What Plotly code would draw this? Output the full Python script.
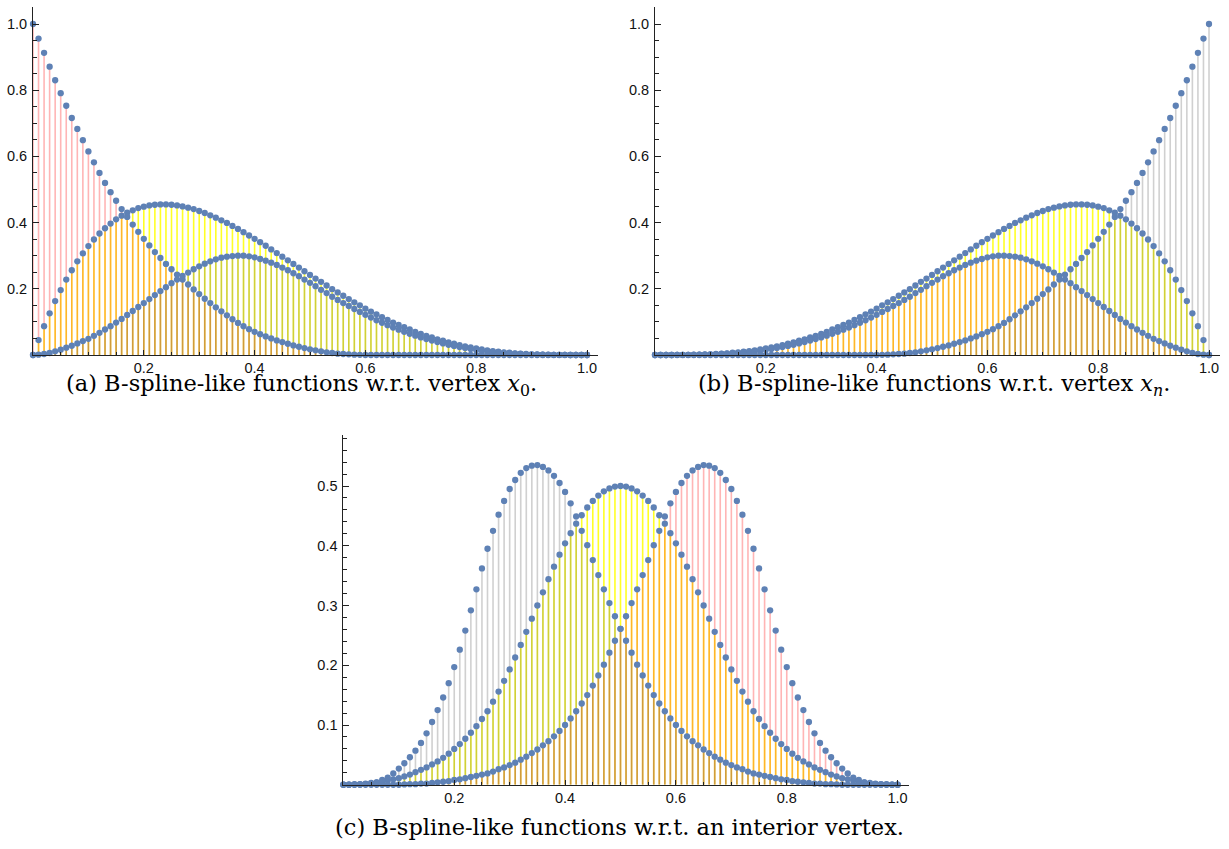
import plotly.graph_objects as go

# sample positions (x grid of the stem plots)
X = [0.00, 0.01, 0.02, 0.03, 0.04, 0.05, 0.06, 0.07, 0.08, 0.09,
     0.10, 0.11, 0.12, 0.13, 0.14, 0.15, 0.16, 0.17, 0.18, 0.19,
     0.20, 0.21, 0.22, 0.23, 0.24, 0.25, 0.26, 0.27, 0.28, 0.29,
     0.30, 0.31, 0.32, 0.33, 0.34, 0.35, 0.36, 0.37, 0.38, 0.39,
     0.40, 0.41, 0.42, 0.43, 0.44, 0.45, 0.46, 0.47, 0.48, 0.49,
     0.50, 0.51, 0.52, 0.53, 0.54, 0.55, 0.56, 0.57, 0.58, 0.59,
     0.60, 0.61, 0.62, 0.63, 0.64, 0.65, 0.66, 0.67, 0.68, 0.69,
     0.70, 0.71, 0.72, 0.73, 0.74, 0.75, 0.76, 0.77, 0.78, 0.79,
     0.80, 0.81, 0.82, 0.83, 0.84, 0.85, 0.86, 0.87, 0.88, 0.89,
     0.90, 0.91, 0.92, 0.93, 0.94, 0.95, 0.96, 0.97, 0.98, 0.99,
     1.00]

# ---- panel (a): vertex x0 ----
A_RED = [1.000, 0.956, 0.913, 0.871, 0.830, 0.791, 0.753, 0.716, 0.683, 0.649,
         0.615, 0.582, 0.550, 0.520, 0.492, 0.466, 0.441, 0.417, 0.394, 0.372,
         0.351, 0.331, 0.311, 0.293, 0.275, 0.259, 0.243, 0.228, 0.213, 0.198,
         0.184, 0.170, 0.157, 0.144, 0.132, 0.120, 0.108, 0.097, 0.087, 0.078,
         0.070, 0.063, 0.056, 0.050, 0.044, 0.039, 0.034, 0.029, 0.025, 0.021,
         0.017, 0.014, 0.011, 0.008, 0.006, 0.004, 0.003, 0.002, 0.001, 0.0005,
         0, 0, 0, 0, 0, 0, 0, 0, 0, 0,
         0, 0, 0, 0, 0, 0, 0, 0, 0, 0,
         0, 0, 0, 0, 0, 0, 0, 0, 0, 0,
         0, 0, 0, 0, 0, 0, 0, 0, 0, 0,
         0]
A_YELLOW = [0.000, 0.045, 0.087, 0.126, 0.163, 0.196, 0.228, 0.256, 0.283, 0.307,
            0.329, 0.349, 0.367, 0.383, 0.397, 0.410, 0.421, 0.430, 0.437, 0.444,
            0.448, 0.452, 0.454, 0.455, 0.455, 0.454, 0.452, 0.449, 0.445, 0.441,
            0.435, 0.429, 0.422, 0.415, 0.407, 0.399, 0.390, 0.381, 0.371, 0.361,
            0.351, 0.341, 0.330, 0.319, 0.308, 0.297, 0.286, 0.275, 0.264, 0.253,
            0.242, 0.231, 0.221, 0.210, 0.199, 0.189, 0.179, 0.169, 0.159, 0.150,
            0.140, 0.131, 0.123, 0.114, 0.106, 0.098, 0.091, 0.084, 0.077, 0.070,
            0.064, 0.058, 0.053, 0.047, 0.043, 0.038, 0.034, 0.030, 0.026, 0.023,
            0.020, 0.017, 0.014, 0.012, 0.010, 0.008, 0.007, 0.005, 0.004, 0.003,
            0.002, 0.002, 0.001, 0.001, 0.0004, 0.0003, 0.0001, 0, 0, 0,
            0]
A_GRAY = [0.000, 0.001, 0.003, 0.006, 0.011, 0.016, 0.022, 0.028, 0.035, 0.042,
          0.049, 0.058, 0.067, 0.077, 0.087, 0.098, 0.109, 0.121, 0.133, 0.145,
          0.157, 0.169, 0.181, 0.193, 0.205, 0.217, 0.228, 0.239, 0.249, 0.259,
          0.268, 0.276, 0.283, 0.289, 0.294, 0.297, 0.299, 0.300, 0.300, 0.298,
          0.295, 0.290, 0.285, 0.279, 0.272, 0.264, 0.256, 0.247, 0.238, 0.228,
          0.218, 0.208, 0.197, 0.187, 0.176, 0.1665, 0.157, 0.148, 0.139, 0.130,
          0.1215, 0.113, 0.105, 0.0975, 0.090, 0.083, 0.0765, 0.070, 0.064, 0.0585,
          0.053, 0.048, 0.0435, 0.039, 0.035, 0.031, 0.0275, 0.024, 0.021, 0.018,
          0.0155, 0.013, 0.011, 0.009, 0.0075, 0.006, 0.005, 0.004, 0.003, 0.002,
          0.0015, 0.001, 0.0007, 0.0005, 0.0003, 0.0002, 0.0001, 0, 0, 0,
          0]

# ---- panel (b): vertex xn ----
B_GRAY = [0, 0, 0, 0, 0, 0, 0, 0, 0, 0,
          0, 0, 0, 0, 0, 0, 0, 0, 0, 0,
          0, 0, 0, 0, 0, 0, 0, 0, 0, 0,
          0, 0, 0, 0, 0, 0, 0, 0, 0, 0,
          0, 0.0005, 0.001, 0.002, 0.003, 0.004, 0.006, 0.008, 0.011, 0.014,
          0.017, 0.021, 0.025, 0.029, 0.034, 0.039, 0.044, 0.050, 0.056, 0.063,
          0.070, 0.078, 0.087, 0.097, 0.108, 0.120, 0.132, 0.144, 0.157, 0.170,
          0.184, 0.198, 0.213, 0.228, 0.243, 0.259, 0.275, 0.293, 0.311, 0.331,
          0.351, 0.372, 0.394, 0.417, 0.441, 0.466, 0.492, 0.520, 0.550, 0.582,
          0.615, 0.649, 0.683, 0.716, 0.753, 0.791, 0.830, 0.871, 0.913, 0.956,
          1.000]
B_YELLOW = [0, 0, 0, 0, 0.0001, 0.0003, 0.0004, 0.001, 0.001, 0.002,
            0.002, 0.003, 0.004, 0.005, 0.007, 0.008, 0.010, 0.012, 0.014, 0.017,
            0.020, 0.023, 0.026, 0.030, 0.034, 0.038, 0.043, 0.047, 0.053, 0.058,
            0.064, 0.070, 0.077, 0.084, 0.091, 0.098, 0.106, 0.114, 0.123, 0.131,
            0.140, 0.150, 0.159, 0.169, 0.179, 0.189, 0.199, 0.210, 0.221, 0.231,
            0.242, 0.253, 0.264, 0.275, 0.286, 0.297, 0.308, 0.319, 0.330, 0.341,
            0.351, 0.361, 0.371, 0.381, 0.390, 0.399, 0.407, 0.415, 0.422, 0.429,
            0.435, 0.441, 0.445, 0.449, 0.452, 0.454, 0.455, 0.455, 0.454, 0.452,
            0.448, 0.444, 0.437, 0.430, 0.421, 0.410, 0.397, 0.383, 0.367, 0.349,
            0.329, 0.307, 0.283, 0.256, 0.228, 0.196, 0.163, 0.126, 0.087, 0.045,
            0.000]
B_RED = [0, 0, 0, 0, 0.0001, 0.0002, 0.0003, 0.0005, 0.0007, 0.001,
         0.0015, 0.002, 0.003, 0.004, 0.005, 0.006, 0.0075, 0.009, 0.011, 0.013,
         0.0155, 0.018, 0.021, 0.024, 0.0275, 0.031, 0.035, 0.039, 0.0435, 0.048,
         0.053, 0.0585, 0.064, 0.070, 0.0765, 0.083, 0.090, 0.0975, 0.105, 0.113,
         0.1215, 0.130, 0.139, 0.148, 0.157, 0.1665, 0.176, 0.187, 0.197, 0.208,
         0.218, 0.228, 0.238, 0.247, 0.256, 0.264, 0.272, 0.279, 0.285, 0.290,
         0.295, 0.298, 0.300, 0.300, 0.299, 0.297, 0.294, 0.289, 0.283, 0.276,
         0.268, 0.259, 0.249, 0.239, 0.228, 0.217, 0.205, 0.193, 0.181, 0.169,
         0.157, 0.145, 0.133, 0.121, 0.109, 0.098, 0.087, 0.077, 0.067, 0.058,
         0.049, 0.042, 0.035, 0.028, 0.022, 0.016, 0.011, 0.006, 0.003, 0.001,
         0.000]

# ---- panel (c): interior vertex ----
C_GRAY = [0, 0, 0, 0.0005, 0.001, 0.002, 0.004, 0.008, 0.012, 0.019,
          0.027, 0.036, 0.046, 0.057, 0.070, 0.086, 0.105, 0.125, 0.146, 0.170,
          0.197, 0.226, 0.258, 0.292, 0.327, 0.362, 0.395, 0.425, 0.452, 0.475,
          0.495, 0.510, 0.522, 0.530, 0.534, 0.535, 0.532, 0.526, 0.517, 0.505,
          0.490, 0.471, 0.449, 0.425, 0.401, 0.376, 0.351, 0.327, 0.304, 0.282,
          0.261, 0.241, 0.221, 0.201, 0.183, 0.166, 0.150, 0.136, 0.123, 0.111,
          0.100, 0.090, 0.081, 0.073, 0.066, 0.059, 0.053, 0.047, 0.042, 0.037,
          0.033, 0.029, 0.026, 0.022, 0.019, 0.017, 0.015, 0.013, 0.011, 0.009,
          0.008, 0.006, 0.005, 0.004, 0.003, 0.002, 0.002, 0.001, 0.001, 0.0005,
          0, 0, 0, 0, 0, 0, 0, 0, 0, 0,
          0]
C_YELLOW = [0, 0, 0.001, 0.001, 0.002, 0.003, 0.004, 0.005, 0.007, 0.009,
            0.011, 0.014, 0.017, 0.021, 0.025, 0.029, 0.034, 0.039, 0.045, 0.052,
            0.060, 0.068, 0.077, 0.087, 0.098, 0.110, 0.123, 0.139, 0.156, 0.174,
            0.193, 0.213, 0.234, 0.256, 0.278, 0.300, 0.322, 0.344, 0.365, 0.385,
            0.404, 0.421, 0.437, 0.451, 0.464, 0.475, 0.484, 0.491, 0.496, 0.499,
            0.500, 0.499, 0.496, 0.491, 0.484, 0.475, 0.464, 0.451, 0.437, 0.421,
            0.404, 0.385, 0.365, 0.344, 0.322, 0.300, 0.278, 0.256, 0.234, 0.213,
            0.193, 0.174, 0.156, 0.139, 0.123, 0.110, 0.098, 0.087, 0.077, 0.068,
            0.060, 0.052, 0.045, 0.039, 0.034, 0.029, 0.025, 0.021, 0.017, 0.014,
            0.011, 0.009, 0.007, 0.005, 0.004, 0.003, 0.002, 0.001, 0.001, 0,
            0]
C_RED = [0, 0, 0, 0, 0, 0, 0, 0, 0, 0,
         0, 0.0005, 0.001, 0.001, 0.002, 0.002, 0.003, 0.004, 0.005, 0.006,
         0.008, 0.009, 0.011, 0.013, 0.015, 0.017, 0.019, 0.022, 0.026, 0.029,
         0.033, 0.037, 0.042, 0.047, 0.053, 0.059, 0.066, 0.073, 0.081, 0.090,
         0.100, 0.111, 0.123, 0.136, 0.150, 0.166, 0.183, 0.201, 0.221, 0.241,
         0.261, 0.282, 0.304, 0.327, 0.351, 0.376, 0.401, 0.425, 0.449, 0.471,
         0.490, 0.505, 0.517, 0.526, 0.532, 0.535, 0.534, 0.530, 0.522, 0.510,
         0.495, 0.475, 0.452, 0.425, 0.395, 0.362, 0.327, 0.292, 0.258, 0.226,
         0.197, 0.170, 0.146, 0.125, 0.105, 0.086, 0.070, 0.057, 0.046, 0.036,
         0.027, 0.019, 0.012, 0.008, 0.004, 0.002, 0.001, 0.0005, 0, 0,
         0]

X_TICKS = [0.2, 0.4, 0.6, 0.8, 1.0]
X_TICKTEXT = ["0.2", "0.4", "0.6", "0.8", "1.0"]
AB_YTICKS = [0.2, 0.4, 0.6, 0.8, 1.0]
AB_YTICKTEXT = ["0.2", "0.4", "0.6", "0.8", "1.0"]
C_YTICKS = [0.1, 0.2, 0.3, 0.4, 0.5]
C_YTICKTEXT = ["0.1", "0.2", "0.3", "0.4", "0.5"]

CAPTIONS = [
    "(a) B-spline-like functions w.r.t. vertex <i>x</i><sub>0</sub>.",
    "(b) B-spline-like functions w.r.t. vertex <i>x<sub>n</sub></i>.",
    "(c) B-spline-like functions w.r.t. an interior vertex.",
]

RED = "rgba(255,50,50,0.36)"
YELLOW = "rgba(255,255,0,0.85)"
GRAY = "rgba(100,100,100,0.30)"
DOT = "#5E81B5"
BAR_W = 0.0029

W, H = 1229, 849

fig = go.Figure()

panels = [
    ("x", "y", [(A_YELLOW, YELLOW), (A_RED, RED), (A_GRAY, GRAY)]),
    ("x2", "y2", [(B_YELLOW, YELLOW), (B_RED, RED), (B_GRAY, GRAY)]),
    ("x3", "y3", [(C_YELLOW, YELLOW), (C_RED, RED), (C_GRAY, GRAY)]),
]

for xa, ya, series in panels:
    for vals, col in series:
        fig.add_trace(go.Bar(x=X, y=vals, width=BAR_W, xaxis=xa, yaxis=ya,
                             marker=dict(color=col, line=dict(width=0)),
                             hoverinfo="skip"))
for xa, ya, series in panels:
    for vals, col in series:
        fig.add_trace(go.Scatter(x=X, y=vals, mode="markers", xaxis=xa, yaxis=ya,
                                 cliponaxis=False,
                                 marker=dict(size=6.3, color=DOT, line=dict(width=0))))

AX = "#222222"
TICKFONT = dict(family="Liberation Sans, Arial, sans-serif", size=14.5, color="#111111")


def xaxis(domain, anchor):
    return dict(domain=domain, anchor=anchor, range=[0, 1.02],
                showline=True, linecolor=AX, linewidth=1,
                ticks="inside", ticklen=5, tickwidth=1, tickcolor=AX,
                tickmode="array", tickvals=X_TICKS, ticktext=X_TICKTEXT,
                tickfont=TICKFONT, showgrid=False, zeroline=False,
                minor=dict(ticks="inside", ticklen=3, tickwidth=1, tickcolor=AX,
                           tickmode="array",
                           tickvals=[i * 0.05 for i in range(1, 21)],
                           showgrid=False))


def yaxis(domain, anchor, rng, tv, tt, minor_step, n_minor):
    return dict(domain=domain, anchor=anchor, range=rng,
                showline=True, linecolor=AX, linewidth=1,
                ticks="inside", ticklen=6, tickwidth=1, tickcolor=AX,
                tickmode="array", tickvals=tv, ticktext=tt,
                tickfont=TICKFONT, showgrid=False, zeroline=False,
                ticklabelstandoff=2,
                minor=dict(ticks="inside", ticklen=3.5, tickwidth=1, tickcolor=AX,
                           tickmode="array",
                           tickvals=[i * minor_step for i in range(1, n_minor + 1)],
                           showgrid=False))


def px_x(a, b):
    return [a / W, b / W]


def px_y(top, bottom):
    return [1 - bottom / H, 1 - top / H]


fig.update_layout(
    width=W, height=H,
    margin=dict(l=0, r=0, t=0, b=0),
    paper_bgcolor="white", plot_bgcolor="white",
    showlegend=False, barmode="overlay",
    xaxis=xaxis(px_x(33, 33 + 1.02 * 554), "y"),
    yaxis=yaxis(px_y(355 - 1.05 * 331, 355), "x", [0, 1.05], AB_YTICKS, AB_YTICKTEXT, 0.05, 21),
    xaxis2=xaxis(px_x(655, 655 + 1.02 * 554), "y2"),
    yaxis2=yaxis(px_y(355 - 1.05 * 331, 355), "x2", [0, 1.05], AB_YTICKS, AB_YTICKTEXT, 0.05, 21),
    xaxis3=xaxis(px_x(343.4, 343.4 + 1.02 * 554.2), "y3"),
    yaxis3=yaxis(px_y(784.75 - 0.585 * 597.5, 784.75), "x3", [0, 0.585], C_YTICKS, C_YTICKTEXT, 0.02, 29),
)

CAP_FONT = dict(family="DejaVu Serif, serif", size=22.5, color="black")
cap_pos = [(301.5, 385), (934, 385), (619.5, 827)]
for text, (cx, cy) in zip(CAPTIONS, cap_pos):
    fig.add_annotation(text=text, x=cx / W, y=1 - cy / H, xref="paper", yref="paper",
                       xanchor="center", yanchor="middle", showarrow=False, font=CAP_FONT)

fig.write_html("out.html", config={"displayModeBar": False},
               post_script="document.body.style.margin='0px';")
